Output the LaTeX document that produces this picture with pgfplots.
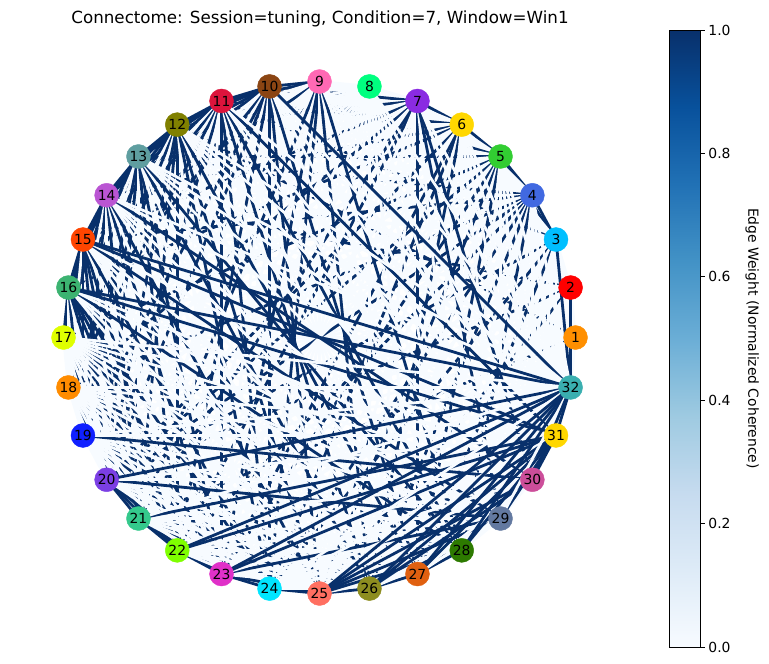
\documentclass[border=0pt]{standalone}
\usepackage{pgfplots}
\pgfplotsset{compat=1.18}
\usepackage{pgfplotstable}
\usepackage{fontspec}
\setmainfont{DejaVu Sans}
\definecolor{n1}{HTML}{FF8F00}
\definecolor{n2}{HTML}{FF0000}
\definecolor{n3}{HTML}{00BFFF}
\definecolor{n4}{HTML}{4169E1}
\definecolor{n5}{HTML}{32CD32}
\definecolor{n6}{HTML}{FFD700}
\definecolor{n7}{HTML}{8A2BE2}
\definecolor{n8}{HTML}{00FF7F}
\definecolor{n9}{HTML}{FF69B4}
\definecolor{n10}{HTML}{8B4513}
\definecolor{n11}{HTML}{DC143C}
\definecolor{n12}{HTML}{808000}
\definecolor{n13}{HTML}{5F9EA0}
\definecolor{n14}{HTML}{BA55D3}
\definecolor{n15}{HTML}{FF4500}
\definecolor{n16}{HTML}{3CB371}
\definecolor{n17}{HTML}{DFFF00}
\definecolor{n18}{HTML}{FF8C00}
\definecolor{n19}{HTML}{1020FF}
\definecolor{n20}{HTML}{7B3FE4}
\definecolor{n21}{HTML}{34C98C}
\definecolor{n22}{HTML}{7FFF00}
\definecolor{n23}{HTML}{E030C8}
\definecolor{n24}{HTML}{00E5FF}
\definecolor{n25}{HTML}{FF6F61}
\definecolor{n26}{HTML}{8D8D20}
\definecolor{n27}{HTML}{E06010}
\definecolor{n28}{HTML}{2D7A00}
\definecolor{n29}{HTML}{6379A0}
\definecolor{n30}{HTML}{CC4E9A}
\definecolor{n31}{HTML}{FFD700}
\definecolor{n32}{HTML}{3AAFB0}
\pgfplotsset{colormap={blues}{rgb255=(247,251,255) rgb255=(222,235,247) rgb255=(198,219,239) rgb255=(158,202,225) rgb255=(107,174,214) rgb255=(66,146,198) rgb255=(33,113,181) rgb255=(8,81,156) rgb255=(8,48,107)}}
\pgfplotstableread{
a b w
1 2 0
1 3 0
1 4 0
1 5 0
1 6 0
1 7 0
1 8 0
1 9 0
1 10 0
1 11 0
1 12 1
1 13 0
1 14 0
1 15 0
1 16 0
1 17 0
1 18 0
1 19 0
1 20 0
1 21 1
1 22 0
1 23 0
1 24 0
1 25 0
1 26 0
1 27 0
1 28 0
1 29 0
1 30 0
1 31 0
1 32 0
2 3 0
2 4 0
2 5 0
2 6 0
2 7 0
2 8 0
2 9 0
2 10 0
2 11 0
2 12 0
2 13 0
2 14 1
2 15 0
2 16 0
2 17 0
2 18 0
2 19 0
2 20 1
2 21 0
2 22 0
2 23 0
2 24 0
2 25 1
2 26 0
2 27 0
2 28 0
2 29 0
2 30 0
2 31 0
2 32 1
3 4 1
3 5 1
3 6 0
3 7 0
3 8 0
3 9 0
3 10 0
3 11 1
3 12 0
3 13 0
3 14 0
3 15 0
3 16 0
3 17 0
3 18 0
3 19 0
3 20 1
3 21 0
3 22 0
3 23 0
3 24 1
3 25 0
3 26 0
3 27 1
3 28 0
3 29 0
3 30 0
3 31 0
3 32 1
4 5 1
4 6 0
4 7 0
4 8 0
4 9 0
4 10 0
4 11 0
4 12 0
4 13 1
4 14 0
4 15 1
4 16 0
4 17 0
4 18 1
4 19 0
4 20 1
4 21 0
4 22 1
4 23 0
4 24 1
4 25 0
4 26 1
4 27 0
4 28 1
4 29 0
4 30 0
4 31 0
4 32 0
5 6 1
5 7 0
5 8 0
5 9 0
5 10 1
5 11 0
5 12 0
5 13 1
5 14 0
5 15 0
5 16 0
5 17 1
5 18 0
5 19 0
5 20 1
5 21 0
5 22 0
5 23 1
5 24 0
5 25 1
5 26 0
5 27 1
5 28 0
5 29 0
5 30 0
5 31 0
5 32 0
6 7 1
6 8 0
6 9 0
6 10 0
6 11 1
6 12 0
6 13 0
6 14 1
6 15 0
6 16 1
6 17 0
6 18 0
6 19 0
6 20 1
6 21 0
6 22 0
6 23 1
6 24 1
6 25 0
6 26 1
6 27 0
6 28 0
6 29 0
6 30 0
6 31 0
6 32 0
7 8 0
7 9 0
7 10 1
7 11 0
7 12 1
7 13 0
7 14 0
7 15 1
7 16 0
7 17 0
7 18 1
7 19 0
7 20 0
7 21 1
7 22 1
7 23 0
7 24 0
7 25 0
7 26 0
7 27 1
7 28 0
7 29 1
7 30 1
7 31 0
7 32 0
8 9 0
8 10 0
8 11 0
8 12 0
8 13 0
8 14 0
8 15 0
8 16 0
8 17 0
8 18 0
8 19 0
8 20 0
8 21 0
8 22 0
8 23 0
8 24 0
8 25 0
8 26 0
8 27 0
8 28 0
8 29 0
8 30 0
8 31 0
8 32 0
9 10 1
9 11 1
9 12 0
9 13 0
9 14 0
9 15 1
9 16 0
9 17 0
9 18 0
9 19 0
9 20 0
9 21 1
9 22 0
9 23 1
9 24 1
9 25 0
9 26 1
9 27 0
9 28 1
9 29 0
9 30 0
9 31 0
9 32 0
10 11 1
10 12 1
10 13 1
10 14 1
10 15 0
10 16 0
10 17 1
10 18 0
10 19 1
10 20 1
10 21 0
10 22 1
10 23 0
10 24 1
10 25 1
10 26 0
10 27 1
10 28 0
10 29 0
10 30 0
10 31 0
10 32 1
11 12 1
11 13 1
11 14 1
11 15 0
11 16 1
11 17 0
11 18 1
11 19 0
11 20 1
11 21 0
11 22 0
11 23 1
11 24 1
11 25 0
11 26 1
11 27 0
11 28 1
11 29 0
11 30 0
11 31 1
11 32 0
12 13 1
12 14 1
12 15 1
12 16 1
12 17 0
12 18 1
12 19 0
12 20 1
12 21 1
12 22 1
12 23 0
12 24 1
12 25 1
12 26 0
12 27 1
12 28 0
12 29 0
12 30 0
12 31 0
12 32 0
13 14 1
13 15 1
13 16 1
13 17 0
13 18 0
13 19 1
13 20 1
13 21 0
13 22 1
13 23 1
13 24 0
13 25 0
13 26 1
13 27 0
13 28 1
13 29 0
13 30 0
13 31 0
13 32 0
14 15 1
14 16 1
14 17 1
14 18 0
14 19 1
14 20 0
14 21 1
14 22 0
14 23 1
14 24 0
14 25 1
14 26 0
14 27 0
14 28 0
14 29 0
14 30 1
14 31 0
14 32 0
15 16 1
15 17 1
15 18 0
15 19 1
15 20 1
15 21 1
15 22 1
15 23 0
15 24 1
15 25 0
15 26 0
15 27 0
15 28 0
15 29 1
15 30 0
15 31 1
15 32 1
16 17 1
16 18 0
16 19 1
16 20 0
16 21 1
16 22 1
16 23 1
16 24 1
16 25 0
16 26 0
16 27 0
16 28 1
16 29 0
16 30 0
16 31 1
16 32 1
17 18 0
17 19 0
17 20 0
17 21 0
17 22 0
17 23 0
17 24 0
17 25 0
17 26 0
17 27 0
17 28 0
17 29 0
17 30 0
17 31 0
17 32 0
18 19 0
18 20 0
18 21 0
18 22 0
18 23 0
18 24 0
18 25 0
18 26 0
18 27 0
18 28 0
18 29 0
18 30 0
18 31 0
18 32 0
19 20 0
19 21 0
19 22 0
19 23 0
19 24 0
19 25 0
19 26 0
19 27 0
19 28 0
19 29 0
19 30 1
19 31 0
19 32 0
20 21 1
20 22 1
20 23 1
20 24 0
20 25 0
20 26 0
20 27 0
20 28 0
20 29 1
20 30 0
20 31 0
20 32 1
21 22 1
21 23 1
21 24 0
21 25 0
21 26 0
21 27 0
21 28 0
21 29 0
21 30 0
21 31 1
21 32 0
22 23 1
22 24 0
22 25 0
22 26 0
22 27 0
22 28 0
22 29 0
22 30 0
22 31 1
22 32 1
23 24 1
23 25 1
23 26 0
23 27 0
23 28 0
23 29 1
23 30 0
23 31 1
23 32 1
24 25 1
24 26 0
24 27 0
24 28 0
24 29 0
24 30 0
24 31 0
24 32 0
25 26 1
25 27 0
25 28 1
25 29 1
25 30 1
25 31 1
25 32 1
26 27 1
26 28 0
26 29 0
26 30 1
26 31 1
26 32 1
27 28 1
27 29 0
27 30 0
27 31 1
27 32 1
28 29 0
28 30 0
28 31 1
28 32 1
29 30 0
29 31 1
29 32 0
30 31 1
30 32 1
31 32 1
}\edgestab
\pgfplotsset{nd/.style={only marks, mark=*, mark size=12pt, #1, nodes near coords style={anchor=center, text=black, inner sep=0pt, font=\fontsize{13.9}{16}\selectfont}}}
\begin{document}
\begin{tikzpicture}
\path[use as bounding box] (0pt,0pt) rectangle (769pt,-664pt);
\begin{axis}[
  at={(45pt,-647pt)}, anchor=south west,
  scale only axis, width=550pt, height=616pt,
  xmin=-1.07227, xmax=1.07617, ymin=-1.20898, ymax=1.19727,
  hide axis, clip=false,
  colormap name=blues, point meta min=0, point meta max=1,
  title={Connectome: Session=tuning, Condition=7, Window=Win1},
  title style={at={(axis description cs:0.5,1)}, anchor=base, yshift=2pt,
    font=\fontsize{16.7}{20}\selectfont},
]
\addplot[
  point meta=\thisrow{w},
  quiver={
    u={cos((\thisrow{b}-1)*11.25)-cos((\thisrow{a}-1)*11.25)},
    v={sin((\thisrow{b}-1)*11.25)-sin((\thisrow{a}-1)*11.25)},
    colored=mapped color,
    every arrow/.append style={line width=2.8pt},
  },
] table[x expr={cos((\thisrow{a}-1)*11.25)}, y expr={sin((\thisrow{a}-1)*11.25)}] {\edgestab};
\addplot[nd=n1, nodes near coords={1}] coordinates {(1.0000,0.0000)};
\addplot[nd=n2, nodes near coords={2}] coordinates {(0.9808,0.1951)};
\addplot[nd=n3, nodes near coords={3}] coordinates {(0.9239,0.3827)};
\addplot[nd=n4, nodes near coords={4}] coordinates {(0.8315,0.5556)};
\addplot[nd=n5, nodes near coords={5}] coordinates {(0.7071,0.7071)};
\addplot[nd=n6, nodes near coords={6}] coordinates {(0.5556,0.8315)};
\addplot[nd=n7, nodes near coords={7}] coordinates {(0.3827,0.9239)};
\addplot[nd=n8, nodes near coords={8}] coordinates {(0.1951,0.9808)};
\addplot[nd=n9, nodes near coords={9}] coordinates {(0.0000,1.0000)};
\addplot[nd=n10, nodes near coords={10}] coordinates {(-0.1951,0.9808)};
\addplot[nd=n11, nodes near coords={11}] coordinates {(-0.3827,0.9239)};
\addplot[nd=n12, nodes near coords={12}] coordinates {(-0.5556,0.8315)};
\addplot[nd=n13, nodes near coords={13}] coordinates {(-0.7071,0.7071)};
\addplot[nd=n14, nodes near coords={14}] coordinates {(-0.8315,0.5556)};
\addplot[nd=n15, nodes near coords={15}] coordinates {(-0.9239,0.3827)};
\addplot[nd=n16, nodes near coords={16}] coordinates {(-0.9808,0.1951)};
\addplot[nd=n17, nodes near coords={17}] coordinates {(-1.0000,0.0000)};
\addplot[nd=n18, nodes near coords={18}] coordinates {(-0.9808,-0.1951)};
\addplot[nd=n19, nodes near coords={19}] coordinates {(-0.9239,-0.3827)};
\addplot[nd=n20, nodes near coords={20}] coordinates {(-0.8315,-0.5556)};
\addplot[nd=n21, nodes near coords={21}] coordinates {(-0.7071,-0.7071)};
\addplot[nd=n22, nodes near coords={22}] coordinates {(-0.5556,-0.8315)};
\addplot[nd=n23, nodes near coords={23}] coordinates {(-0.3827,-0.9239)};
\addplot[nd=n24, nodes near coords={24}] coordinates {(-0.1951,-0.9808)};
\addplot[nd=n25, nodes near coords={25}] coordinates {(0.0000,-1.0000)};
\addplot[nd=n26, nodes near coords={26}] coordinates {(0.1951,-0.9808)};
\addplot[nd=n27, nodes near coords={27}] coordinates {(0.3827,-0.9239)};
\addplot[nd=n28, nodes near coords={28}] coordinates {(0.5556,-0.8315)};
\addplot[nd=n29, nodes near coords={29}] coordinates {(0.7071,-0.7071)};
\addplot[nd=n30, nodes near coords={30}] coordinates {(0.8315,-0.5556)};
\addplot[nd=n31, nodes near coords={31}] coordinates {(0.9239,-0.3827)};
\addplot[nd=n32, nodes near coords={32}] coordinates {(0.9808,-0.1951)};
\end{axis}
\begin{axis}[
  at={(669pt,-647pt)}, anchor=south west,
  scale only axis, width=31pt, height=617pt,
  xmin=0, xmax=1, ymin=0, ymax=1,
  xtick=\empty, ytick={0,0.2,0.4,0.6,0.8,1},
  ytick pos=right, yticklabel pos=right,
  tick align=outside, major tick length=4.9pt,
  tick style={black, line width=0.8pt},
  axis line style={line width=0.8pt},
  axis on top,
  colormap name=blues, point meta min=0, point meta max=1,
  yticklabel style={/pgf/number format/assume math mode=true,
      /pgf/number format/fixed, /pgf/number format/fixed zerofill,
      /pgf/number format/precision=1, font=\fontsize{13.9}{16}\selectfont},
  ylabel={Edge Weight (Normalized Coherence)},
  ylabel style={at={(axis description cs:2.68,0.5)}, anchor=center, rotate=180,
      font=\fontsize{13.9}{16}\selectfont},
]
\addplot[patch, shader=interp, point meta=explicit] coordinates {
(0,0) [0] (1,0) [0] (1,0.125) [0.125]
(0,0) [0] (1,0.125) [0.125] (0,0.125) [0.125]
(0,0.125) [0.125] (1,0.125) [0.125] (1,0.25) [0.25]
(0,0.125) [0.125] (1,0.25) [0.25] (0,0.25) [0.25]
(0,0.25) [0.25] (1,0.25) [0.25] (1,0.375) [0.375]
(0,0.25) [0.25] (1,0.375) [0.375] (0,0.375) [0.375]
(0,0.375) [0.375] (1,0.375) [0.375] (1,0.5) [0.5]
(0,0.375) [0.375] (1,0.5) [0.5] (0,0.5) [0.5]
(0,0.5) [0.5] (1,0.5) [0.5] (1,0.625) [0.625]
(0,0.5) [0.5] (1,0.625) [0.625] (0,0.625) [0.625]
(0,0.625) [0.625] (1,0.625) [0.625] (1,0.75) [0.75]
(0,0.625) [0.625] (1,0.75) [0.75] (0,0.75) [0.75]
(0,0.75) [0.75] (1,0.75) [0.75] (1,0.875) [0.875]
(0,0.75) [0.75] (1,0.875) [0.875] (0,0.875) [0.875]
(0,0.875) [0.875] (1,0.875) [0.875] (1,1) [1]
(0,0.875) [0.875] (1,1) [1] (0,1) [1]
};
\end{axis}
\end{tikzpicture}
\end{document}
